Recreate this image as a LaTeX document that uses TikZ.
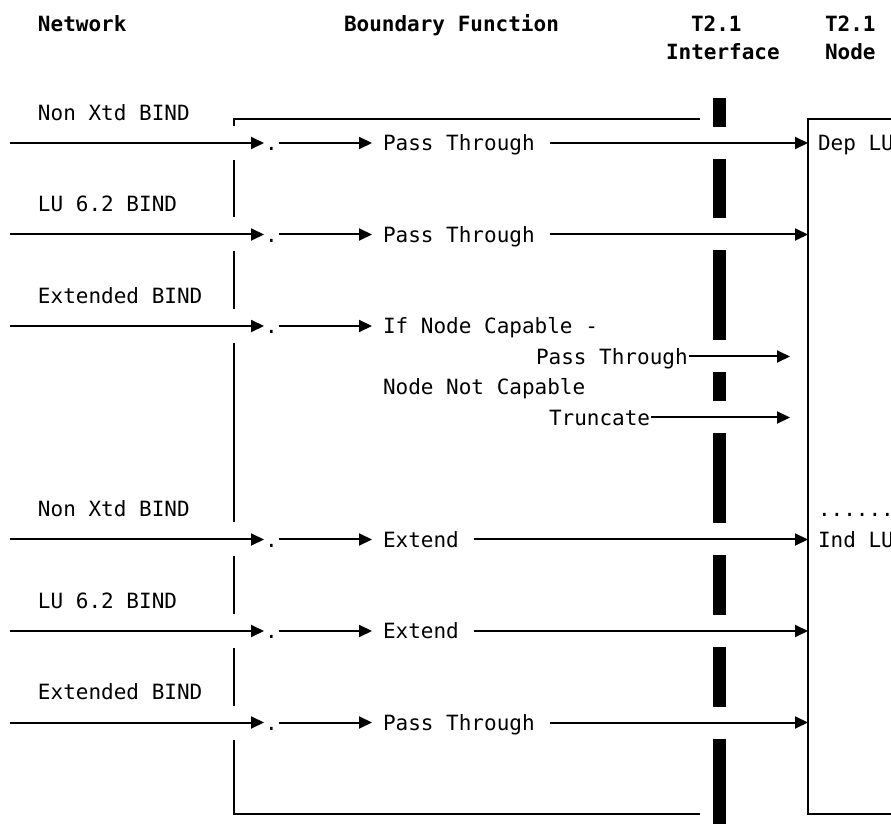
\documentclass[tikz,border=0pt]{standalone}
\usepackage{fontspec}
\newfontfamily\mono{DejaVu Sans Mono}
\usetikzlibrary{arrows.meta}
\tikzset{
  lbl/.style={font=\mono\fontsize{10.5}{12}\selectfont, inner sep=0pt, text height=7.6pt, text depth=0pt, anchor=west},
  hdr/.style={lbl, font=\mono\bfseries\fontsize{10.5}{12}\selectfont},
  bar/.style={line width=6.5pt},
}
\begin{document}
\begin{tikzpicture}[x=0.5pt, y=-0.5pt, line width=1pt, >={Triangle[length=6.5pt,width=6pt]}]
\useasboundingbox (0,0) rectangle (891,824);
% headings
\node[hdr] (hnet) at (37,24) {Network};
\node[hdr] (hbf) at (343,24) {Boundary Function};
\node[hdr] (hif) at (690,24) {T2.1};
\node[hdr] (hif2) at (665,52) {Interface};
\node[hdr] (hnd) at (824,24) {T2.1};
\node[hdr] (hnd2) at (824,52) {Node};
\coordinate (boxtl) at (808,119);
\coordinate (subend) at (790,0);
% network side
\node[lbl] (in1) at (37,112.5) {Non Xtd BIND};
\node[lbl] (in2) at (37,204) {LU 6.2 BIND};
\node[lbl] (in3) at (37,295.5) {Extended BIND};
\node[lbl] (in4) at (37,509) {Non Xtd BIND};
\node[lbl] (in5) at (37,600.5) {LU 6.2 BIND};
\node[lbl] (in6) at (37,692) {Extended BIND};
\coordinate (s1) at (10,143);
\coordinate (s2) at (10,234.5);
\coordinate (s3) at (10,326);
\coordinate (s4) at (10,539.5);
\coordinate (s5) at (10,631);
\coordinate (s6) at (10,722.5);
% boundary function
\node[lbl] (dot1) at (264,143) {.};
\node[lbl] (dot2) at (264,234.5) {.};
\node[lbl] (dot3) at (264,326) {.};
\node[lbl] (dot4) at (264,539.5) {.};
\node[lbl] (dot5) at (264,631) {.};
\node[lbl] (dot6) at (264,722.5) {.};
\node[lbl] (fn1) at (382,143) {Pass Through};
\node[lbl] (fn2) at (382,234.5) {Pass Through};
\node[lbl] (fn3) at (382,326) {If Node Capable -};
\node[lbl] (sub1) at (535,356.5) {Pass Through};
\node[lbl] (notcap) at (382,387) {Node Not Capable};
\node[lbl] (trunc) at (548,417.5) {Truncate};
\node[lbl] (fn4) at (382,539.5) {Extend};
\node[lbl] (fn5) at (382,631) {Extend};
\node[lbl] (fn6) at (382,722.5) {Pass Through};
% node side
\node[lbl] (deplu) at (817,143) {Dep LU};
\node[lbl] (dots) at (817,509) {......};
\node[lbl] (indlu) at (817,539.5) {Ind LU};
% arrows
\draw[->] (s1) -- (dot1.west);
\draw[->] (s2) -- (dot2.west);
\draw[->] (s3) -- (dot3.west);
\draw[->] (s4) -- (dot4.west);
\draw[->] (s5) -- (dot5.west);
\draw[->] (s6) -- (dot6.west);
\draw[->, shorten >=5pt] (dot1.east) -- (fn1.west);
\draw[->, shorten >=5pt] (dot2.east) -- (fn2.west);
\draw[->, shorten >=5pt] (dot3.east) -- (fn3.west);
\draw[->, shorten >=5pt] (dot4.east) -- (fn4.west);
\draw[->, shorten >=5pt] (dot5.east) -- (fn5.west);
\draw[->, shorten >=5pt] (dot6.east) -- (fn6.west);
\draw[->, shorten <=7pt] (fn1.east) -- (fn1.east -| boxtl);
\draw[->, shorten <=7pt] (fn2.east) -- (fn2.east -| boxtl);
\draw[->, shorten <=7pt] (fn4.east) -- (fn4.east -| boxtl);
\draw[->, shorten <=7pt] (fn5.east) -- (fn5.east -| boxtl);
\draw[->, shorten <=7pt] (fn6.east) -- (fn6.east -| boxtl);
\draw[->] (sub1.east) -- (sub1.east -| subend);
\draw[->] (trunc.east) -- (trunc.east -| subend);
% boundary bracket
\draw (700,119) -- (234,119) -- (234,126);
\draw (234,160) -- (234,217.5);
\draw (234,251.5) -- (234,309);
\draw (234,343) -- (234,522.5);
\draw (234,556.5) -- (234,614);
\draw (234,648) -- (234,705.5);
\draw (234,739.5) -- (234,814) -- (700,814);
% interface bar
\draw[bar] (719.5,98) -- (719.5,127);
\draw[bar] (719.5,159) -- (719.5,218.5);
\draw[bar] (719.5,250.5) -- (719.5,340.5);
\draw[bar] (719.5,372.5) -- (719.5,401.5);
\draw[bar] (719.5,433.5) -- (719.5,523.5);
\draw[bar] (719.5,555.5) -- (719.5,615);
\draw[bar] (719.5,647) -- (719.5,706.5);
\draw[bar] (719.5,738.5) -- (719.5,824);
% node box
\draw (891,119) -- (boxtl) -- (808,814) -- (891,814);
\end{tikzpicture}
\end{document}
